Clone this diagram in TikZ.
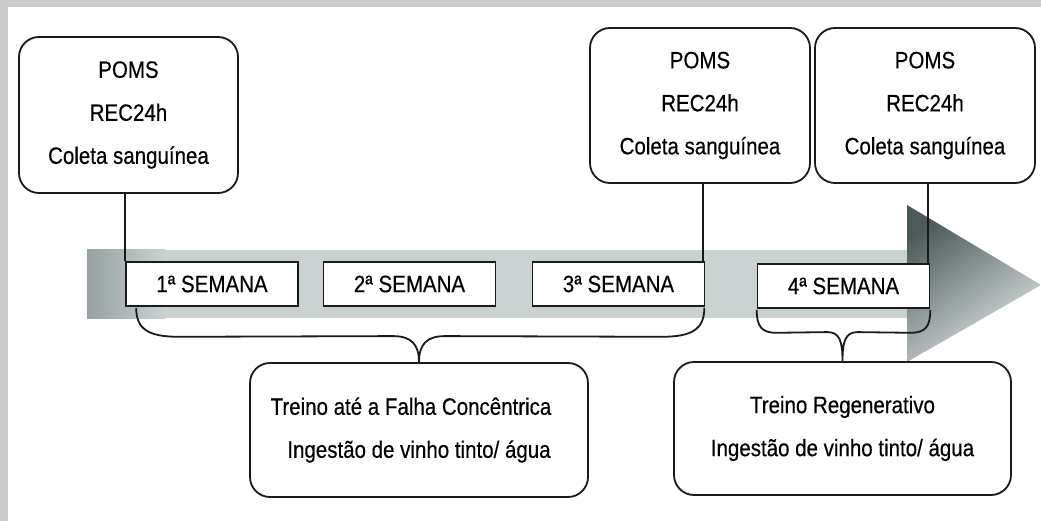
\documentclass[tikz,border=0pt]{standalone}
\usepackage{fontspec}
\setmainfont{Liberation Sans}[FakeStretch=0.865,FakeBold=0.4]
\usetikzlibrary{calc}
\definecolor{framec}{HTML}{CCCCCC}
\definecolor{lineclr}{HTML}{1A1A1A}
\definecolor{bandc}{HTML}{C9D1D1}
\definecolor{banddark}{HTML}{97A1A1}
\definecolor{headtop}{HTML}{4C5A5A}
\definecolor{headbot}{HTML}{E0E6E6}
\begin{document}
\begin{tikzpicture}[x=1pt,y=-1pt,
  infobox/.style={draw=lineclr, line width=1.8pt, rounded corners=20pt, fill=white, inner sep=0pt, align=center, font=\fontsize{23.7}{43}\selectfont},
  weekbox/.style={draw=lineclr, line width=1.6pt, fill=white, inner sep=0pt, minimum width=172pt, minimum height=44pt, font=\fontsize{23.7}{28}\selectfont},
  link/.style={draw=lineclr, line width=2.2pt},
  bracel/.style={draw=lineclr, line width=1.8pt}]
\useasboundingbox (0,0) rectangle (1041,521);
\fill[framec] (0,0) rectangle (1041,521);
\fill[white] (7.5,7.5) rectangle (1041,521);
% timeline arrow
\fill[bandc] (87,250) rectangle (907,318);
\shade[left color=banddark, right color=bandc] (87,250) rectangle (165,318);
\shade[top color=headtop, bottom color=headbot, shading angle=35] (907,205) -- (1041,285) -- (907,362) -- cycle;
% top boxes
\node[infobox, minimum width=219pt, minimum height=156pt] (top1) at (128.5,115) {POMS\\REC24h\\Coleta sanguínea};
\node[infobox, minimum width=220pt, minimum height=155pt] (top2) at (700,105.5) {POMS\\REC24h\\Coleta sanguínea};
\node[infobox, minimum width=220pt, minimum height=155pt] (top3) at (925,105.5) {POMS\\REC24h\\Coleta sanguínea};
% weeks
\node[weekbox] (wk1) at (212,284) {1ª SEMANA};
\node[weekbox] (wk2) at (409.5,284) {2ª SEMANA};
\node[weekbox] (wk3) at (618.5,284) {3ª SEMANA};
\node[weekbox] (wk4) at (843.5,286) {4ª SEMANA};
% bottom boxes
\node[infobox, minimum width=338pt, minimum height=134pt] (b1) at (419,430) {Treino até a Falha Concêntrica\hspace*{16pt}\\Ingestão de vinho tinto/ água};
\node[infobox, minimum width=337pt, minimum height=133pt] (b2) at (842.5,428.5) {Treino Regenerativo\\Ingestão de vinho tinto/ água};
% links
\draw[link] (wk1.north west) -- (wk1.north west |- top1.south);
\draw[link] ([xshift=-2.5pt]wk3.north east) -- ([xshift=-2.5pt]wk3.north east |- top2.south);
\draw[link] ([xshift=-2.5pt]wk4.north east) -- ([xshift=-2.5pt]wk4.north east |- top3.south);
% big brace
\coordinate (bL) at ($(wk1.south west)+(11,1)$);
\coordinate (bR) at ($(wk3.south east)+(-1,1)$);
\coordinate (bT) at (b1.north);
\draw[bracel] (bL) .. controls ($(bL)+(0,22)$) and ($(bL)+(13,29)$) .. ($(bL)+(43,29)$)
  -- ($(bT)+(-26,-26)$) .. controls ($(bT)+(-8,-26)$) and ($(bT)+(0,-18)$) .. (bT)
  .. controls ($(bT)+(0,-18)$) and ($(bT)+(8,-26)$) .. ($(bT)+(26,-26)$)
  -- ($(bR)+(-43,29)$) .. controls ($(bR)+(-13,29)$) and ($(bR)+(0,22)$) .. (bR);
% small brace
\coordinate (sL) at ($(wk4.south west)+(0,1)$);
\coordinate (sR) at ($(wk4.south east)+(0,1)$);
\coordinate (sT) at (b2.north);
\draw[bracel] (sL) .. controls ($(sL)+(0,17)$) and ($(sL)+(5,23)$) .. ($(sL)+(20,23)$)
  -- ($(sT)+(-15,-29)$) .. controls ($(sT)+(-3,-29)$) and ($(sT)+(0,-20)$) .. (sT)
  .. controls ($(sT)+(0,-20)$) and ($(sT)+(3,-29)$) .. ($(sT)+(15,-29)$)
  -- ($(sR)+(-20,23)$) .. controls ($(sR)+(-5,23)$) and ($(sR)+(0,17)$) .. (sR);
\end{tikzpicture}
\end{document}
